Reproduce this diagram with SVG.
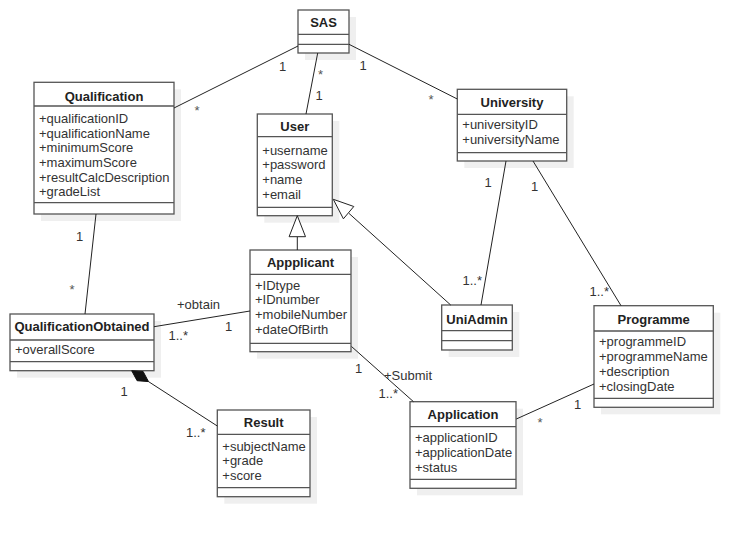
<svg xmlns="http://www.w3.org/2000/svg" width="753" height="537" viewBox="0 0 753 537">
  <style>
    .shadow { fill: #efefef; stroke: none; }
    .box { fill: #ffffff; stroke: #555555; stroke-width: 1.3; }
    .div { stroke: #555555; stroke-width: 1.3; }
    .title { font-family: "Liberation Sans", Arial, sans-serif; font-size: 13px; font-weight: bold; fill: #222222; text-anchor: middle; }
    .attr { font-family: "Liberation Sans", Arial, sans-serif; font-size: 13px; fill: #333333; }
    .lbl { font-family: "Liberation Sans", Arial, sans-serif; font-size: 13px; fill: #333333; }
    .star { font-family: "Liberation Sans", Arial, sans-serif; font-size: 13px; fill: #555555; }
    .conn { stroke: #222222; stroke-width: 1; fill: none; }
    .hollow { fill: #ffffff; stroke: #222222; stroke-width: 1; }
    .solid { fill: #111111; stroke: #111111; stroke-width: 1; }
  </style>

  <g id="SAS">
    <rect class="shadow" x="305" y="17" width="51" height="43"/>
    <rect class="box" x="298" y="10" width="51" height="43"/>
    <line class="div" x1="298" y1="34.3" x2="349" y2="34.3"/>
    <line class="div" x1="298" y1="44.3" x2="349" y2="44.3"/>
    <text class="title" x="323.5" y="26.5">SAS</text>
  </g>

  <g id="Qualification">
    <rect class="shadow" x="41" y="89.3" width="140" height="131.7"/>
    <rect class="box" x="34" y="82.3" width="140" height="131.7"/>
    <line class="div" x1="34" y1="106" x2="174" y2="106"/>
    <line class="div" x1="34" y1="202.7" x2="174" y2="202.7"/>
    <text class="title" x="104" y="100.5">Qualification</text>
    <text class="attr" x="39" y="122.8">+qualificationID</text>
    <text class="attr" x="39" y="137.5">+qualificationName</text>
    <text class="attr" x="39" y="152.2">+minimumScore</text>
    <text class="attr" x="39" y="166.9">+maximumScore</text>
    <text class="attr" x="39" y="181.6">+resultCalcDescription</text>
    <text class="attr" x="39" y="196.3">+gradeList</text>
  </g>

  <g id="User">
    <rect class="shadow" x="264.3" y="121" width="75" height="101.7"/>
    <rect class="box" x="257.3" y="114" width="75" height="101.7"/>
    <line class="div" x1="257.3" y1="136.7" x2="332.3" y2="136.7"/>
    <line class="div" x1="257.3" y1="207.3" x2="332.3" y2="207.3"/>
    <text class="title" x="294.8" y="131">User</text>
    <text class="attr" x="262.3" y="154.5">+username</text>
    <text class="attr" x="262.3" y="169.3">+password</text>
    <text class="attr" x="262.3" y="184.1">+name</text>
    <text class="attr" x="262.3" y="198.9">+email</text>
  </g>

  <g id="University">
    <rect class="shadow" x="464.3" y="96.3" width="109.4" height="71.7"/>
    <rect class="box" x="457.3" y="89.3" width="109.4" height="71.7"/>
    <line class="div" x1="457.3" y1="114.3" x2="566.7" y2="114.3"/>
    <line class="div" x1="457.3" y1="152.7" x2="566.7" y2="152.7"/>
    <text class="title" x="512" y="107">University</text>
    <text class="attr" x="462.3" y="129">+universityID</text>
    <text class="attr" x="462.3" y="144.2">+universityName</text>
  </g>

  <g id="QualificationObtained">
    <rect class="shadow" x="17" y="321" width="144" height="56.7"/>
    <rect class="box" x="10" y="314" width="144" height="56.7"/>
    <line class="div" x1="10" y1="340" x2="154" y2="340"/>
    <line class="div" x1="10" y1="361.7" x2="154" y2="361.7"/>
    <text class="title" x="82" y="331">QualificationObtained</text>
    <text class="attr" x="15" y="354">+overallScore</text>
  </g>

  <g id="Applicant">
    <rect class="shadow" x="257" y="257" width="101" height="101.7"/>
    <rect class="box" x="250" y="250" width="101" height="101.7"/>
    <line class="div" x1="250" y1="274.3" x2="351" y2="274.3"/>
    <line class="div" x1="250" y1="343.3" x2="351" y2="343.3"/>
    <text class="title" x="300.5" y="267">Appplicant</text>
    <text class="attr" x="255" y="289.5">+IDtype</text>
    <text class="attr" x="255" y="304.4">+IDnumber</text>
    <text class="attr" x="255" y="319.3">+mobileNumber</text>
    <text class="attr" x="255" y="334.2">+dateOfBirth</text>
  </g>

  <g id="UniAdmin">
    <rect class="shadow" x="448.7" y="312" width="70.6" height="45"/>
    <rect class="box" x="441.7" y="305" width="70.6" height="45"/>
    <line class="div" x1="441.7" y1="330.7" x2="512.3" y2="330.7"/>
    <line class="div" x1="441.7" y1="340.7" x2="512.3" y2="340.7"/>
    <text class="title" x="477" y="324">UniAdmin</text>
  </g>

  <g id="Programme">
    <rect class="shadow" x="601" y="312.7" width="119.3" height="101.6"/>
    <rect class="box" x="594" y="305.7" width="119.3" height="101.6"/>
    <line class="div" x1="594" y1="331" x2="713.3" y2="331"/>
    <line class="div" x1="594" y1="398.3" x2="713.3" y2="398.3"/>
    <text class="title" x="653.7" y="324">Programme</text>
    <text class="attr" x="599" y="346">+programmeID</text>
    <text class="attr" x="599" y="361">+programmeName</text>
    <text class="attr" x="599" y="375.8">+description</text>
    <text class="attr" x="599" y="390.6">+closingDate</text>
  </g>

  <g id="Result">
    <rect class="shadow" x="224.3" y="417" width="92.7" height="86.7"/>
    <rect class="box" x="217.3" y="410" width="92.7" height="86.7"/>
    <line class="div" x1="217.3" y1="434.3" x2="310" y2="434.3"/>
    <line class="div" x1="217.3" y1="487.7" x2="310" y2="487.7"/>
    <text class="title" x="263.7" y="427">Result</text>
    <text class="attr" x="222.3" y="450.5">+subjectName</text>
    <text class="attr" x="222.3" y="465.2">+grade</text>
    <text class="attr" x="222.3" y="479.9">+score</text>
  </g>

  <g id="Application">
    <rect class="shadow" x="417" y="408.7" width="106" height="86.6"/>
    <rect class="box" x="410" y="401.7" width="106" height="86.6"/>
    <line class="div" x1="410" y1="426.7" x2="516" y2="426.7"/>
    <line class="div" x1="410" y1="479.3" x2="516" y2="479.3"/>
    <text class="title" x="463" y="419">Application</text>
    <text class="attr" x="415" y="442">+applicationID</text>
    <text class="attr" x="415" y="457">+applicationDate</text>
    <text class="attr" x="415" y="472">+status</text>
  </g>

  <!-- associations, drawn above the boxes and their shadows -->
  <g id="connectors">
    <line class="conn" x1="298" y1="46" x2="174" y2="108"/>
    <line class="conn" x1="317.7" y1="53" x2="306" y2="114"/>
    <line class="conn" x1="349" y1="44.3" x2="457.3" y2="99"/>
    <line class="conn" x1="506" y1="161" x2="481" y2="305"/>
    <line class="conn" x1="533" y1="161" x2="621" y2="305.7"/>
    <line class="conn" x1="96" y1="214" x2="85" y2="314"/>
    <line class="conn" x1="154" y1="326.7" x2="250" y2="311"/>
    <line class="conn" x1="148.5" y1="381.6" x2="217.3" y2="426"/>
    <line class="conn" x1="351.5" y1="346.5" x2="413.5" y2="401.7"/>
    <line class="conn" x1="516.3" y1="419" x2="594" y2="384"/>
    <!-- generalisations -->
    <line class="conn" x1="297.3" y1="250" x2="297.3" y2="236.7"/>
    <polygon class="hollow" points="297.3,215.7 289.1,236.7 305.5,236.7"/>
    <line class="conn" x1="450.7" y1="305" x2="348.9" y2="213.3"/>
    <polygon class="hollow" points="333.3,199.3 353.8,206.5 343.4,218.8"/>
    <!-- composition -->
    <polygon class="solid" points="131.7,370.7 143.1,371.5 148.5,381.6 137.1,380.7"/>

    <!-- multiplicities and role names -->
    <text class="lbl" x="279" y="71">1</text>
    <text class="star" x="194.5" y="114.5">*</text>
    <text class="star" x="318" y="78.5">*</text>
    <text class="lbl" x="315.5" y="100">1</text>
    <text class="lbl" x="359.5" y="69.5">1</text>
    <text class="star" x="428.5" y="104">*</text>
    <text class="lbl" x="484.5" y="187">1</text>
    <text class="lbl" x="462.5" y="285">1..*</text>
    <text class="lbl" x="531" y="191">1</text>
    <text class="lbl" x="589.5" y="296">1..*</text>
    <text class="lbl" x="76" y="241">1</text>
    <text class="star" x="69.5" y="294">*</text>
    <text class="lbl" x="177" y="308.5">+obtain</text>
    <text class="lbl" x="225" y="331">1</text>
    <text class="lbl" x="168.5" y="340">1..*</text>
    <text class="lbl" x="120.5" y="396">1</text>
    <text class="lbl" x="186" y="436.5">1..*</text>
    <text class="lbl" x="355" y="373">1</text>
    <text class="lbl" x="384" y="380">+Submit</text>
    <text class="lbl" x="378.5" y="398">1..*</text>
    <text class="star" x="537.5" y="426.5">*</text>
    <text class="lbl" x="574" y="409">1</text>
  </g>
</svg>
